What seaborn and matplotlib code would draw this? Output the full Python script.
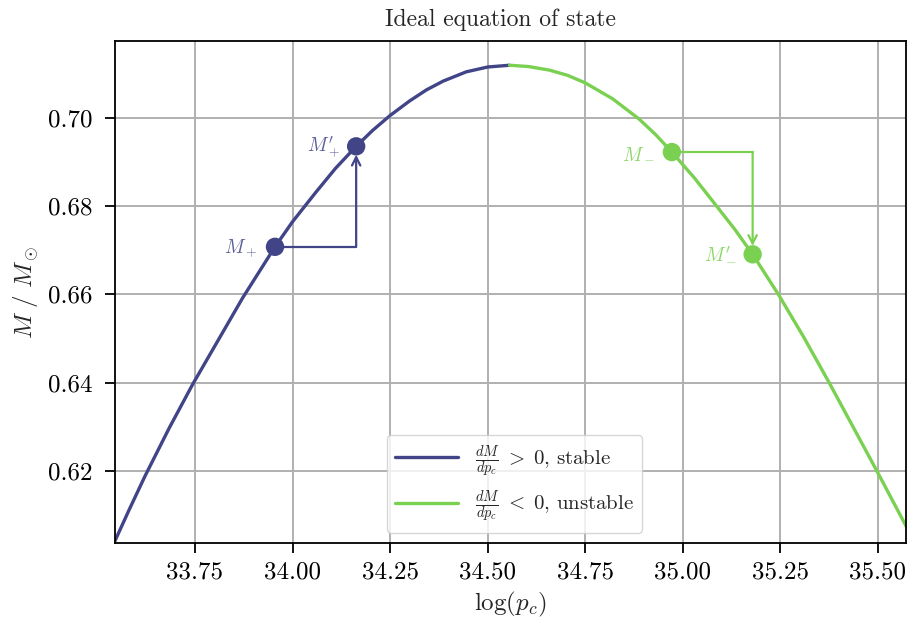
import numpy as np
import pandas as pd
import matplotlib
matplotlib.use("Agg")
import matplotlib.pyplot as plt
import seaborn as sns
from matplotlib.ticker import FormatStrFormatter, MultipleLocator

# ---- data ----
stable_x = [33.543, 33.580, 33.622, 33.684, 33.744, 33.810, 33.872, 33.955, 34.000, 34.059,
            34.110, 34.163, 34.205, 34.250, 34.300, 34.343, 34.386, 34.445, 34.500, 34.556]
stable_y = [0.6037, 0.6109, 0.6188, 0.6297, 0.6396, 0.6497, 0.6592, 0.6708, 0.6765, 0.6831,
            0.6886, 0.6936, 0.6972, 0.7006, 0.7039, 0.7064, 0.7084, 0.7105, 0.7116, 0.7120]
unstable_x = [34.556, 34.605, 34.658, 34.705, 34.750, 34.820, 34.888, 34.930, 34.972, 35.030,
              35.087, 35.133, 35.179, 35.245, 35.310, 35.375, 35.497, 35.573]
unstable_y = [0.7120, 0.7117, 0.7109, 0.7097, 0.7080, 0.7044, 0.6998, 0.6963, 0.6923, 0.6864,
              0.6800, 0.6748, 0.6691, 0.6600, 0.6503, 0.6400, 0.6200, 0.6073]

mplus = (33.955, 0.6708)
mplus_p = (34.163, 0.6936)
mminus = (34.972, 0.6923)
mminus_p = (35.179, 0.6691)

c_stable = "#414487"
c_unstable = "#7ad151"

sns.set_theme(style="whitegrid")
plt.rcParams.update({
    "font.family": ["cmr10"],
    "mathtext.fontset": "cm",
    "axes.formatter.use_mathtext": True,
    "axes.edgecolor": "black",
    "axes.linewidth": 1.3,
    "grid.color": "#b0b0b0",
    "grid.linewidth": 1.4,
    "xtick.bottom": True,
    "ytick.left": True,
    "xtick.major.size": 7,
    "ytick.major.size": 7,
    "xtick.major.width": 1.3,
    "ytick.major.width": 1.3,
    "xtick.major.pad": 6,
    "ytick.major.pad": 9,
    "xtick.color": "black",
    "ytick.color": "black",
})

fig = plt.figure(figsize=(9.07, 6.28), dpi=100)
ax = fig.add_axes([115/907, 1-543/628, (906-115)/907, (543-41)/628])

df_s = pd.DataFrame({"x": stable_x, "y": stable_y})
df_u = pd.DataFrame({"x": unstable_x, "y": unstable_y})
sns.lineplot(data=df_s, x="x", y="y", ax=ax, color=c_stable, lw=2.4, sort=False,
             label=r"$\frac{dM}{dp_c}\;>\;0$, stable")
sns.lineplot(data=df_u, x="x", y="y", ax=ax, color=c_unstable, lw=2.4, sort=False,
             label=r"$\frac{dM}{dp_c}\;<\;0$, unstable")

# points
pts_s = pd.DataFrame({"x": [mplus[0], mplus_p[0]], "y": [mplus[1], mplus_p[1]]})
pts_u = pd.DataFrame({"x": [mminus[0], mminus_p[0]], "y": [mminus[1], mminus_p[1]]})
sns.scatterplot(data=pts_s, x="x", y="y", ax=ax, color=c_stable, s=175, edgecolor="none", zorder=5)
sns.scatterplot(data=pts_u, x="x", y="y", ax=ax, color=c_unstable, s=175, edgecolor="none", zorder=5)

# arrows
ax.plot([mplus[0], mplus_p[0]], [mplus[1], mplus[1]], color=c_stable, lw=1.6)
ax.annotate("", xy=mplus_p, xytext=(mplus_p[0], mplus[1]),
            arrowprops=dict(arrowstyle="->", color=c_stable, lw=1.6, shrinkA=0, shrinkB=6,
                            mutation_scale=15))
ax.plot([mminus[0], mminus_p[0]], [mminus[1], mminus[1]], color=c_unstable, lw=1.6)
ax.annotate("", xy=mminus_p, xytext=(mminus_p[0], mminus[1]),
            arrowprops=dict(arrowstyle="->", color=c_unstable, lw=1.6, shrinkA=0, shrinkB=6,
                            mutation_scale=15))

# labels
lab_kw = dict(fontsize=14, ha="right", va="center", alpha=0.85)
ax.text(mplus[0] - 0.045, mplus[1] - 0.0003, r"$M_+$", color=c_stable, **lab_kw)
ax.text(mplus_p[0] - 0.042, mplus_p[1], r"$M_+^{\prime}$", color=c_stable, **lab_kw)
ax.text(mminus[0] - 0.045, mminus[1] - 0.0003, r"$M_-$", color=c_unstable, **lab_kw)
ax.text(mminus_p[0] - 0.042, mminus_p[1], r"$M_-^{\prime}$", color=c_unstable, **lab_kw)

ax.set_xlim(33.545, 35.572)
ax.set_ylim(0.6036, 0.7175)
ax.xaxis.set_major_locator(MultipleLocator(0.25))
ax.yaxis.set_major_locator(MultipleLocator(0.02))
ax.xaxis.set_major_formatter(FormatStrFormatter("%.2f"))
ax.yaxis.set_major_formatter(FormatStrFormatter("%.2f"))
ax.tick_params(labelsize=18)
for s in ax.spines.values():
    s.set_visible(True)
    s.set_color("black")

ax.set_xlabel(r"$\log(p_c)$", fontsize=18, labelpad=5)
ax.set_ylabel(r"$M\ /\ M_\odot$", fontsize=18, labelpad=5)
ax.set_title("Ideal equation of state", fontsize=17, pad=11, x=0.487)

leg = ax.legend(loc="lower center", bbox_to_anchor=(0.505, 0.0), fontsize=15, framealpha=0.8,
                edgecolor="#cccccc", handlelength=3.0, labelspacing=0.45)

fig.savefig("out.png", dpi=100)
